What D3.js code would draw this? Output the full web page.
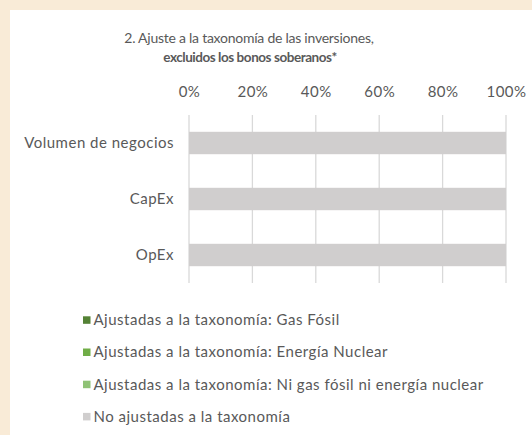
<!DOCTYPE html>
<html>
<head>
<meta charset="utf-8">
<script src="https://cdn.jsdelivr.net/npm/d3@7"></script>
<style>
  body { margin: 0; background: #f9ebd7; }
  svg { display: block; font-family: Lato, "Open Sans", sans-serif; }
</style>
</head>
<body>
<svg id="chart" width="532" height="435"></svg>
<script>
// data
const categories = ["Volumen de negocios", "CapEx", "OpEx"];
const seriesNames = [
  "Ajustadas a la taxonomía: Gas Fósil",
  "Ajustadas a la taxonomía: Energía Nuclear",
  "Ajustadas a la taxonomía: Ni gas fósil ni energía nuclear",
  "No ajustadas a la taxonomía"
];
const gasFosil = [0, 0, 0];
const nuclear = [0, 0, 0];
const niGasNiNuclear = [0, 0, 0];
const noAjustadas = [100, 100, 100];
const tickValues = [0, 20, 40, 60, 80, 100];
const colors = ["#548235", "#70ad47", "#8fc275", "#d0cece"];

const svg = d3.select('#chart');
const textCol = "#595959";

// white panel
svg.append('rect')
  .attr('x', 10).attr('y', 10)
  .attr('width', 522).attr('height', 425)
  .attr('fill', 'white');

// title
const title = svg.append('text')
  .attr('x', 249).attr('text-anchor', 'middle')
  .attr('fill', textCol).attr('font-size', 14)
  .attr('letter-spacing', -0.25);
title.append('tspan').attr('x', 249).attr('y', 43)
  .text("2. Ajuste a la taxonomía de las inversiones,");
title.append('tspan').attr('x', 250).attr('y', 62)
  .attr('font-weight', 'bold').attr('font-size', 13.5)
  .attr('letter-spacing', -0.45)
  .text("excluidos los bonos soberanos*");

const x = d3.scaleLinear().domain([0, 100]).range([189, 506]);
const y = d3.scaleBand().domain(categories).range([115, 283]).paddingInner(0.6).paddingOuter(0.3);

// gridlines
svg.append('g').selectAll('line')
  .data(tickValues).join('line')
  .attr('x1', d => x(d)).attr('x2', d => x(d))
  .attr('y1', 115).attr('y2', 283)
  .attr('stroke', '#d9d9d9').attr('stroke-width', 1.3);

// top axis labels
const axis = d3.axisTop(x).tickValues(tickValues).tickFormat(d => d + '%').tickSize(0).tickPadding(0);
const axisG = svg.append('g').attr('transform', 'translate(0,97)').call(axis);
axisG.select('.domain').remove();
axisG.selectAll('text')
  .attr('fill', textCol).attr('font-size', 15).attr('font-family', 'Lato, sans-serif')
  .attr('letter-spacing', 0.5).attr('dy', 0);

// category labels
const yAxis = d3.axisLeft(y).tickSize(0).tickPadding(0);
const yG = svg.append('g').attr('transform', 'translate(174,0)').call(yAxis);
yG.select('.domain').remove();
yG.selectAll('text')
  .attr('fill', textCol).attr('font-size', 15).attr('font-family', 'Lato, sans-serif')
  .attr('letter-spacing', 0.5);

// stacked bars
const rows = categories.map((c, i) => ({
  cat: c, v0: gasFosil[i], v1: nuclear[i], v2: niGasNiNuclear[i], v3: noAjustadas[i]
}));
const stack = d3.stack().keys(['v0', 'v1', 'v2', 'v3'])(rows);
svg.append('g').selectAll('g')
  .data(stack).join('g')
  .attr('fill', (d, i) => colors[i])
  .selectAll('rect')
  .data(d => d).join('rect')
  .attr('x', d => x(d[0]))
  .attr('y', d => y(d.data.cat))
  .attr('width', d => x(d[1]) - x(d[0]))
  .attr('height', y.bandwidth());

// legend
const legend = svg.append('g').selectAll('g')
  .data(seriesNames).join('g')
  .attr('transform', (d, i) => `translate(83,${320 + i * 32.2})`);
legend.append('rect')
  .attr('x', 0).attr('y', -3.7).attr('width', 7.5).attr('height', 7.5)
  .attr('fill', (d, i) => colors[i]);
legend.append('text')
  .attr('x', 10.5).attr('y', 0).attr('dy', '0.35em')
  .attr('fill', textCol).attr('font-size', 15)
  .attr('letter-spacing', 0.5)
  .text(d => d);
</script>
</body>
</html>
